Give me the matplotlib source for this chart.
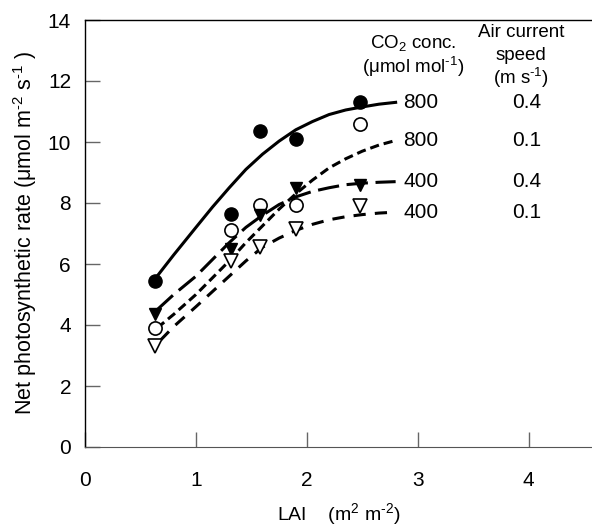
import matplotlib
matplotlib.use("Agg")
import matplotlib.pyplot as plt

plt.rcParams.update({"font.family": "Liberation Sans", "font.size": 14,
                     "mathtext.fontset": "custom", "mathtext.rm": "Liberation Sans",
                     "mathtext.it": "Liberation Sans", "mathtext.default": "regular"})

# measured points: LAI vs net photosynthetic rate
lai = [0.63, 1.32, 1.58, 1.90, 2.48]
c800_v04 = [5.45, 7.65, 10.35, 10.10, 11.30]
c800_v01 = [3.90, 7.10, 7.95, 7.95, 10.60]
c400_v04 = [4.35, 6.50, 7.60, 8.50, 8.60]
c400_v01 = [3.30, 6.10, 6.55, 7.15, 7.90]

# fitted curves
fit_x = [0.65, 0.8, 1.0, 1.15, 1.3, 1.45, 1.6, 1.75, 1.9, 2.05, 2.2, 2.35, 2.5, 2.65, 2.8]
fit_800_04 = [5.6, 6.3, 7.2, 7.87, 8.5, 9.1, 9.6, 10.03, 10.4, 10.67, 10.9, 11.05, 11.15, 11.24, 11.3]
fit_800_01 = [3.9, 4.35, 5.0, 5.55, 6.1, 6.7, 7.25, 7.8, 8.3, 8.75, 9.15, 9.45, 9.7, 9.9, 10.05]
fit_400_04 = [4.5, 5.0, 5.6, 6.15, 6.7, 7.2, 7.6, 7.95, 8.2, 8.38, 8.5, 8.6, 8.65, 8.68, 8.7]
fit_x4 = [0.68, 0.8, 1.0, 1.15, 1.3, 1.45, 1.6, 1.75, 1.9, 2.05, 2.2, 2.35, 2.5, 2.65, 2.8]
fit_400_01 = [3.5, 3.95, 4.6, 5.1, 5.6, 6.1, 6.55, 6.85, 7.1, 7.3, 7.45, 7.55, 7.62, 7.67, 7.7]

co2 = ["800", "800", "400", "400"]
speed = ["0.4", "0.1", "0.4", "0.1"]

fig = plt.figure(figsize=(5.92, 5.26), dpi=100)
ax = fig.add_axes([85/592, 79/526, 1 - 85/592, 427/526])

ax.plot(fit_x, fit_800_04, color="black", lw=2.2, ls="-")
ax.plot(fit_x, fit_800_01, color="black", lw=2.2, ls=(0, (3, 1.6)))
ax.plot(fit_x, fit_400_04, color="black", lw=2.2, ls=(0, (7, 2.5)))
ax.plot(fit_x4, fit_400_01, color="black", lw=2.2, ls=(0, (4, 3)))

ms = 9.5
ax.plot(lai, c800_v04, "o", color="black", ms=ms, zorder=5)
ax.plot(lai, c800_v01, "o", mfc="white", mec="black", mew=1.2, ms=ms, zorder=5)
ax.plot(lai, c400_v04, "v", color="black", ms=ms - 1, zorder=5)
ax.plot(lai, c400_v01, "v", mfc="white", mec="black", mew=1.2, ms=ms, zorder=5)

ends = [fit_800_04[-1], fit_800_01[-1], fit_400_04[-1], fit_400_01[-1]]
for c, s, yv in zip(co2, speed, ends):
    ax.text(2.87, yv, c, ha="left", va="center", fontsize=15)
    ax.text(3.98, yv, s, ha="center", va="center", fontsize=15)

hy = r"$^{\text{-}1}$"
ax.text(2.96, 13.25, "CO$_{2}$ conc.", ha="center", va="center", fontsize=13.5)
ax.text(2.96, 12.46, "(μmol mol" + hy + ")", ha="center", va="center", fontsize=13.5)
ax.text(3.93, 13.6, "Air current", ha="center", va="center", fontsize=13.5)
ax.text(3.93, 12.85, "speed", ha="center", va="center", fontsize=13.5)
ax.text(3.93, 12.1, "(m s" + hy + ")", ha="center", va="center", fontsize=13.5)

ax.set_xlim(0, 4.57)
ax.set_ylim(0, 14)
ax.set_xticks([0, 1, 2, 3, 4])
ax.set_yticks(range(0, 15, 2))
ax.tick_params(direction="in", length=11, width=1, color="#666666", labelsize=15)
ax.tick_params(axis="x", pad=17)
ax.tick_params(axis="y", pad=10)
ax.spines["right"].set_visible(False)
for sp in ("left", "top"):
    ax.spines[sp].set_linewidth(1.0)
ax.spines["bottom"].set_color("#555555")

ax.set_xlabel(r"LAI    (m$^{2}$ m$^{\text{-}2}$)", fontsize=14, labelpad=8)
ax.set_ylabel(r"Net photosynthetic rate (μmol m$^{\text{-}2}$ s" + hy + " )",
              fontsize=15.5, labelpad=6)

fig.savefig("out.png", dpi=100)
